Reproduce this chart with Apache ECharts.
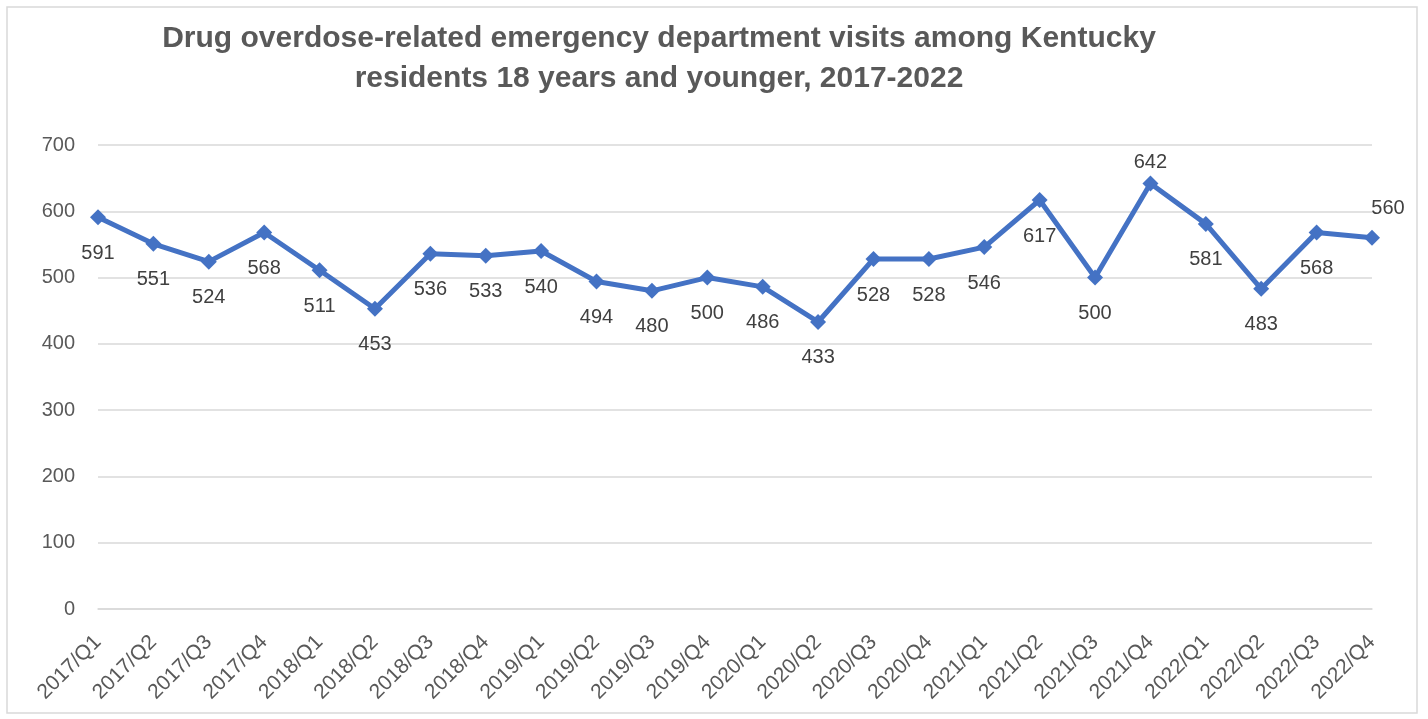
<!DOCTYPE html>
<html>
<head>
<meta charset="utf-8">
<script src="https://cdn.jsdelivr.net/npm/echarts@6/dist/echarts.min.js"></script>
<style>html,body{margin:0;padding:0;background:#fff;}#c{width:1428px;height:719px;}</style>
</head>
<body>
<div id="c"></div>
<script>
const categories = ['2017/Q1','2017/Q2','2017/Q3','2017/Q4','2018/Q1','2018/Q2','2018/Q3','2018/Q4','2019/Q1','2019/Q2','2019/Q3','2019/Q4','2020/Q1','2020/Q2','2020/Q3','2020/Q4','2021/Q1','2021/Q2','2021/Q3','2021/Q4','2022/Q1','2022/Q2','2022/Q3','2022/Q4'];
const visits = [591,551,524,568,511,453,536,533,540,494,480,500,486,433,528,528,546,617,500,642,581,483,568,560];
const titleText = 'Drug overdose-related emergency department visits among Kentucky\nresidents 18 years and younger, 2017-2022';
const yMin = 0, yMax = 700, yStep = 100;
const labelAbove = {19: {position: 'top', distance: 3}, 23: {position: 'top', distance: 11, offset: [16, 0]}};

const chart = echarts.init(document.getElementById('c'), null, {renderer: 'canvas'});
const seriesData = visits.map((v, i) => labelAbove[i] ? {value: v, label: labelAbove[i]} : v);
chart.setOption({
  animation: false,
  backgroundColor: '#fff',
  graphic: [{type: 'rect', shape: {x: 7, y: 7, width: 1410, height: 706}, style: {fill: 'none', stroke: '#d9d9d9', lineWidth: 1.5}, z: -1}],
  title: {
    text: titleText, left: 654, top: 14, textAlign: 'center',
    textStyle: {fontFamily: 'Liberation Sans', fontWeight: 'bold', fontSize: 30, color: '#595959', lineHeight: 40}
  },
  grid: {left: 98, right: 56, top: 145, bottom: 110, containLabel: false},
  xAxis: {
    type: 'category', data: categories, boundaryGap: false,
    axisLine: {show: true, lineStyle: {color: '#d9d9d9', width: 1.5}},
    axisTick: {show: false},
    axisLabel: {rotate: 45, margin: 30, interval: 0, color: '#595959', fontFamily: 'Liberation Sans', fontSize: 21}
  },
  yAxis: {
    type: 'value', min: yMin, max: yMax, interval: yStep,
    axisLine: {show: false}, axisTick: {show: false},
    splitLine: {lineStyle: {color: '#d9d9d9', width: 1.5}},
    axisLabel: {margin: 23, color: '#595959', fontFamily: 'Liberation Sans', fontSize: 20}
  },
  series: [{
    type: 'line', data: seriesData,
    symbol: 'diamond', symbolSize: 16,
    lineStyle: {color: '#4472C4', width: 5},
    itemStyle: {color: '#4472C4'},
    label: {show: true, position: 'bottom', distance: 18, color: '#404040', fontFamily: 'Liberation Sans', fontSize: 20}
  }]
});
</script>
</body>
</html>
